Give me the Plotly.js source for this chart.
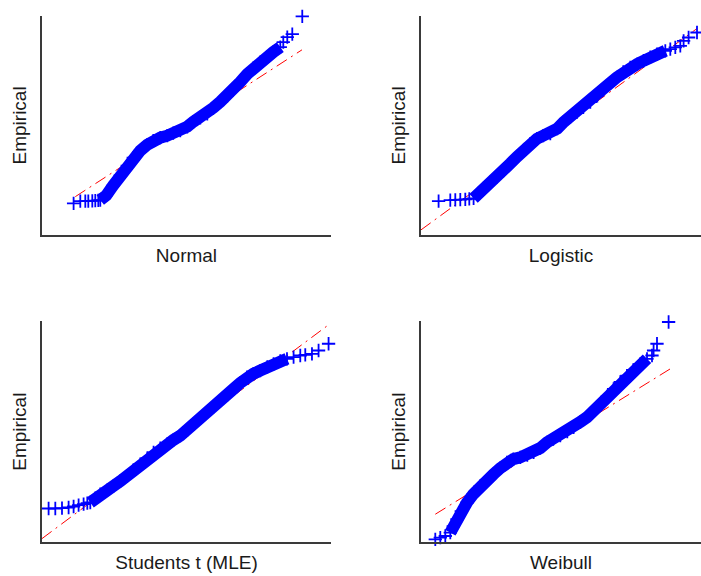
<!DOCTYPE html>
<html>
<head>
<meta charset="utf-8">
<script src="https://cdn.plot.ly/plotly-3.0.1.min.js"></script>
<style>
  html, body { margin: 0; padding: 0; background: #ffffff; }
  #qq { width: 701px; height: 576px; }
</style>
</head>
<body>
<div id="qq"></div>
<script>
// Distribution names shown under each panel
const distNames = ["Normal", "Logistic", "Students t (MLE)", "Weibull"];

// Normal: theoretical quantiles vs. sorted sample
const normalTheo = [3.16,3.83,4.33,4.63,5.03,5.33,5.63,
  5.83,6.43,7.13,7.83,8.53,9.13,9.83,10.53,11.13,11.83,12.53,13.13,13.83,14.53,15.13,15.83,16.53,17.13,17.83,18.53,19.13,19.83,20.53,21.13,21.83,22.53,23.13,23.83,
  24.13,24.53,25.03,26.03];
const normalEmp = [3.17,3.40,3.40,3.40,3.42,3.44,3.47,
  3.50,3.97,4.97,5.97,6.97,7.77,8.47,9.07,9.47,9.77,9.97,10.22,10.47,10.87,11.37,11.77,12.17,12.77,13.37,13.97,14.67,15.37,16.17,16.77,17.37,17.87,18.37,18.87,
  19.37,19.87,20.17,21.97];
const normalRefX = [3.33, 26.0];
const normalRefY = [3.84, 18.6];
const normalTails = [7, 4];

// Logistic
const logisticTheo = [1.76,2.93,3.43,3.93,4.43,4.83,
  5.26,5.73,6.26,6.93,7.60,8.23,8.93,9.63,10.26,10.93,11.60,12.23,12.93,13.63,14.26,14.93,15.60,16.23,16.93,17.63,18.26,18.93,19.60,20.23,20.93,21.63,22.26,22.93,23.60,24.43,
  24.93,25.43,25.93,26.26,26.76,27.60];
const logisticEmp = [3.40,3.50,3.52,3.54,3.57,3.62,
  3.67,4.17,4.67,5.27,5.84,6.47,7.17,7.87,8.50,9.17,9.67,9.97,10.17,10.67,11.34,11.87,12.34,12.82,13.34,13.97,14.67,15.27,15.84,16.37,16.84,17.17,17.50,17.87,18.17,18.50,
  18.67,18.84,19.00,19.50,19.84,20.34];
const logisticRefX = [0, 27.6];
const logisticRefY = [0.5, 20.74];
const logisticTails = [6, 6];

// Student's t (maximum likelihood fit)
const studentTheo = [0.66,1.33,2.00,2.66,3.16,3.66,4.16,4.53,
  4.83,5.33,5.83,6.53,7.16,7.83,8.50,9.13,9.83,10.53,11.16,11.83,12.50,13.13,13.83,14.53,15.16,15.83,16.50,17.13,17.83,18.53,19.16,19.83,20.50,21.13,21.83,22.53,23.16,23.83,24.50,
  25.16,25.83,26.33,27.00,27.66,28.66];
const studentEmp = [3.34,3.34,3.37,3.44,3.54,3.67,3.77,3.87,
  3.94,4.37,4.77,5.17,5.60,6.07,6.60,7.17,7.77,8.37,8.94,9.37,9.77,10.17,10.60,11.17,11.77,12.37,12.94,13.47,14.10,14.67,15.27,15.87,16.44,16.77,17.10,17.47,17.77,18.07,18.27,
  18.44,18.60,18.67,18.77,19.10,19.77];
const studentRefX = [0, 28.5];
const studentRefY = [0.34, 21.54];
const studentTails = [8, 6];

// Weibull
const weibullTheo = [1.43,1.93,2.43,
  2.93,3.23,3.60,4.03,4.60,5.23,5.93,6.63,7.26,7.93,8.60,9.23,9.93,10.63,11.26,11.93,12.60,13.23,13.93,14.63,15.26,15.93,16.60,17.23,17.93,18.63,19.26,19.93,20.60,21.23,21.93,22.60,
  23.10,23.26,23.60,24.76];
const weibullEmp = [0.27,0.44,0.60,
  0.94,1.57,2.27,3.07,3.94,4.77,5.60,6.22,6.77,7.37,7.94,8.27,8.44,8.67,8.94,9.37,9.94,10.27,10.60,11.02,11.44,11.97,12.44,13.07,13.77,14.52,15.27,15.97,16.60,17.17,17.77,18.27,
  18.60,19.10,19.77,21.94];
const weibullRefX = [1.43, 24.93];
const weibullRefY = [2.77, 17.27];
const weibullTails = [3, 4];

const series = [
  { theo: normalTheo,   emp: normalEmp,   refX: normalRefX,   refY: normalRefY,   tails: normalTails },
  { theo: logisticTheo, emp: logisticEmp, refX: logisticRefX, refY: logisticRefY, tails: logisticTails },
  { theo: studentTheo,  emp: studentEmp,  refX: studentRefX,  refY: studentRefY,  tails: studentTails },
  { theo: weibullTheo,  emp: weibullEmp,  refX: weibullRefX,  refY: weibullRefY,  tails: weibullTails }
];

const BLUE = "#0000ff";
const RED = "#ff0000";
const FONT = "Liberation Sans, Arial, Helvetica, sans-serif";

const traces = [];
series.forEach((s, i) => {
  const xa = i === 0 ? "x" : "x" + (i + 1);
  const ya = i === 0 ? "y" : "y" + (i + 1);
  // fitted reference line (dash-dot)
  traces.push({
    type: "scatter", mode: "lines", x: s.refX, y: s.refY, xaxis: xa, yaxis: ya,
    line: { color: RED, width: 1, dash: "12px,5px,2px,5px" },
    hoverinfo: "skip", cliponaxis: false
  });
  // densely packed middle of the sample: the crosses merge into a solid band
  const lo = s.tails[0], hi = s.theo.length - s.tails[1];
  traces.push({
    type: "scatter", mode: "lines",
    x: s.theo.slice(lo, hi), y: s.emp.slice(lo, hi), xaxis: xa, yaxis: ya,
    line: { color: BLUE, width: 12 },
    hoverinfo: "skip", cliponaxis: false
  });
  // every sample point as a "+" marker
  traces.push({
    type: "scatter", mode: "markers", x: s.theo, y: s.emp, xaxis: xa, yaxis: ya,
    marker: { symbol: "cross-thin", size: 9.5, color: BLUE, line: { color: BLUE, width: 1.8 } },
    cliponaxis: false
  });
});

function xAxis(title, domain, range, anchor) {
  return {
    domain: domain, range: range, anchor: anchor,
    showgrid: false, zeroline: false, showticklabels: false, ticks: "",
    showline: true, linecolor: "#3a3a3a", linewidth: 2, fixedrange: true,
    title: { text: title, font: { family: FONT, size: 19, color: "#1a1a1a" }, standoff: 13 }
  };
}
function yAxis(domain, range, anchor) {
  return {
    domain: domain, range: range, anchor: anchor,
    showgrid: false, zeroline: false, showticklabels: false, ticks: "",
    showline: true, linecolor: "#3a3a3a", linewidth: 2, fixedrange: true,
    title: { text: "Empirical", font: { family: FONT, size: 19, color: "#1a1a1a" }, standoff: 8 }
  };
}

const leftDom = [0, 0.4385], rightDom = [0.5751, 1];
const topDom = [0.5839, 1], botDom = [0, 0.4194];

const layout = {
  width: 701, height: 576,
  margin: { l: 42, r: 0, t: 16, b: 34 },
  paper_bgcolor: "#ffffff", plot_bgcolor: "#ffffff",
  showlegend: false,
  font: { family: FONT, color: "#1a1a1a" },
  xaxis:  xAxis(distNames[0], leftDom,  [0, 28.9], "y"),
  yaxis:  yAxis(topDom, [0, 22.0], "x"),
  xaxis2: xAxis(distNames[1], rightDom, [0, 28.0], "y2"),
  yaxis2: yAxis(topDom, [0, 22.0], "x2"),
  xaxis3: xAxis(distNames[2], leftDom,  [0, 28.9], "y3"),
  yaxis3: yAxis(botDom, [0, 22.0], "x3"),
  xaxis4: xAxis(distNames[3], rightDom, [0, 28.0], "y4"),
  yaxis4: yAxis(botDom, [0, 22.0], "x4")
};

Plotly.newPlot("qq", traces, layout, { displayModeBar: false, staticPlot: true });
</script>
</body>
</html>
